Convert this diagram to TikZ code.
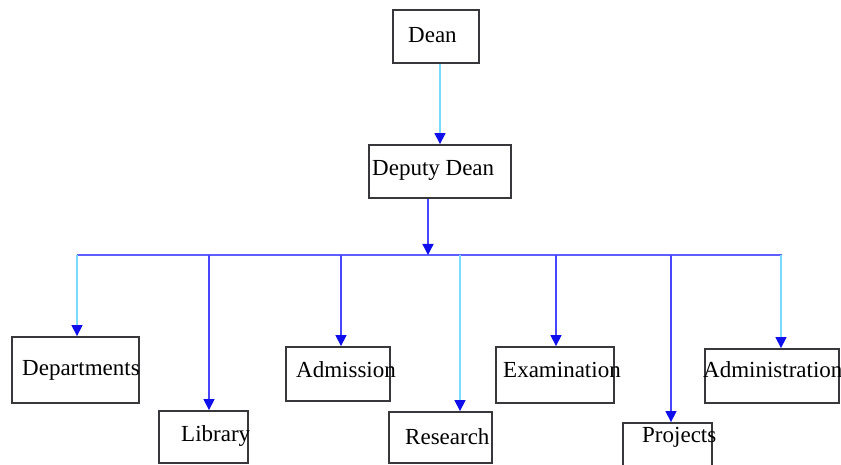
\documentclass[tikz,border=0pt]{standalone}
\usepackage{fontspec}
\setmainfont{Liberation Serif}
\usetikzlibrary{arrows.meta}
\definecolor{linecyan}{RGB}{120,220,255}
\definecolor{lineblue}{RGB}{70,70,255}
\definecolor{busblue}{RGB}{95,95,255}
\definecolor{headblue}{RGB}{15,15,235}
\definecolor{boxgray}{RGB}{55,55,60}

\begin{document}
\begin{tikzpicture}
  [x=1pt, y=-1pt,
   box/.style={draw=boxgray, line width=1.8pt, rectangle, inner sep=0pt},
   txt/.style={anchor=west, inner sep=0pt, font=\fontsize{23}{26}\selectfont},
   down/.style={line width=1.3pt, -{Triangle[width=11pt,length=11pt,color=headblue]}}]
  \useasboundingbox (0,0) rectangle (841,465);

  \node[box, minimum width=86, minimum height=53] (dean) at (436,36.5) {};
  \node[box, minimum width=142, minimum height=53] (deputy) at (440,171.5) {};
  \node[box, minimum width=127, minimum height=66] (dept) at (75.5,370) {};
  \node[box, minimum width=89, minimum height=52] (library) at (203.5,437) {};
  \node[box, minimum width=104, minimum height=54] (admission) at (338,374) {};
  \node[box, minimum width=103, minimum height=51] (research) at (440.5,437.5) {};
  \node[box, minimum width=118, minimum height=56] (exam) at (555,375) {};
  \node[box, minimum width=89, minimum height=47] (projects) at (667.5,446.5) {};
  \node[box, minimum width=134, minimum height=54] (admin) at (772,376) {};

  \node[txt] (dean-t) at (408,35) {Dean};
  \node[txt] (deputy-t) at (372,170) {Deputy Dean};
  \node[txt] (dept-t) at (22,370) {Departments};
  \node[txt] (library-t) at (181,436) {Library};
  \node[txt] (admission-t) at (296,370) {Admission};
  \node[txt] (research-t) at (405,437) {Research};
  \node[txt] (exam-t) at (503,370) {Examination};
  \node[txt] (projects-t) at (642,437) {Projects};
  \node[txt] (admin-t) at (703,370) {Administration};

  \draw[down, linecyan] ([xshift=4]dean.south) -- ([xshift=4]dean.south |- deputy.north);
  \coordinate (bus-l) at (77,255);
  \coordinate (bus-r) at (782,255);
  \draw[busblue, line width=1.4pt] (bus-l) -- (bus-r);
  \draw[down, lineblue] ([xshift=-12]deputy.south) -- ([xshift=-12]deputy.south |- bus-l);
  \foreach \x/\n/\c in {77/dept/linecyan, 209/library/lineblue, 341/admission/lineblue,
                        460/research/linecyan, 556/exam/lineblue, 671/projects/lineblue,
                        781/admin/linecyan}
    {
      \coordinate (b-\n) at (\x,255);
      \draw[down, \c] (b-\n) -- (b-\n |- \n.north);
    }
\end{tikzpicture}
\end{document}
